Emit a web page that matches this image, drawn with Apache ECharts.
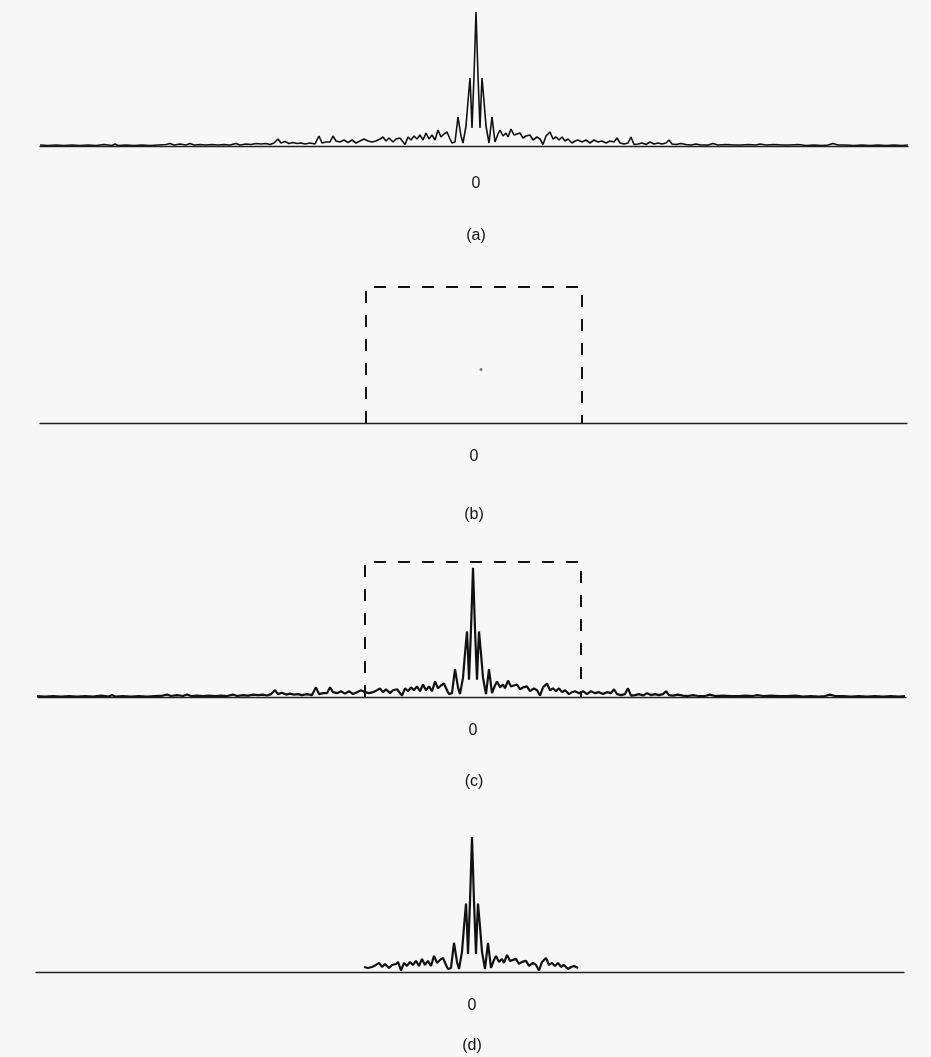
<!DOCTYPE html>
<html>
<head>
<meta charset="utf-8">
<script src="https://cdn.jsdelivr.net/npm/echarts@6/dist/echarts.min.js"></script>
<style>
html,body{margin:0;padding:0;background:#f7f7f7;}
#chart{width:931px;height:1057px;}
</style>
</head>
<body>
<div id="chart"></div>
<script>
// Frequency offsets (relative to zero) and spectrum amplitudes
const freq = [-436,-428,-420,-412,-404,-396,-388,-380,-372,-364,-361,-358,-350,-342,-334,-326,-318,-310,-306,-302,-296,-290,-286,-282,-276,-270,-264,-258,-252,-246,-240,-236,-230,-225,-220,-215,-210,-206,-202,-198,-195,-191,-187,-183,-179,-175,-171,-166,-161,-157,-154,-150,-146,-143,-140,-136,-132,-128,-124,-120,-116,-112,-108,-104,-100,-96,-93,-90,-87,-83,-80,-76,-74,-71,-68,-65,-62,-59,-56,-53,-50,-47,-44,-41,-38,-35,-32,-29,-26,-24,-21,-18,-15,-13,-10,-8,-6,-5,-4,-2,0,2,4,5,6,8,10,13,16,19,22,24,27,30,32,35,38,41,44,47,50,54,57,61,64,67,70,74,77,80,83,86,89,92,96,99,102,106,110,114,118,122,126,130,134,138,141,144,148,152,155,158,162,166,170,174,178,182,186,190,193,196,200,205,210,215,220,225,232,237,242,250,258,266,272,280,284,290,298,306,314,322,330,338,346,352,357,362,370,378,386,394,402,410,418,426,432];
const amplitude = [1,0.5,1,0.5,1,0.5,1,0.5,1.5,0.5,2,0.5,1,0.5,1,0.5,1,1.5,2.5,1,2,1,2.5,1,1.5,1,1.5,1,1.5,1,2.5,1,2,1.5,2.5,2,2.5,1.5,3,7,3,4.5,2.5,3.5,2.5,3,2,3,2,10,3,4,4,10,5,4,6,3.5,6,3,5,7,5,4,5,7,9,5,8,4,7,8,10,1.5,9,6,10,7,11,6,13,7,11,6,16,9,12,14,7,3,4,29,10,3,20,45,68,45,18,70,134,70,18,45,68,45,20,3,29,4,12,16,10,13,9,17,11,12,13,8,10,11,6,9,7,1.5,10,14,7,9,6,9,5,7,3,5,6,4,6,3,6,4,5,3,5,4,8,3,2,3,9,1.5,2,3,1.5,4,2,3,2,3,6,2,1.5,2.5,1.5,1,2,1,1,2.5,1,1.5,1,1,1.5,1,2,1,1.5,1,1,1.5,0.5,1,0.5,1,2.5,1,1,0.5,1,0.5,1,0.5,1,0.5,1];
// Rectangular window (half-width and height)
const windowX = [-108, -108, 108, 108];
const windowY = [0, 140, 140, 0];
const panelLabels = ['(a)', '(b)', '(c)', '(d)'];
const zeroTick = [0];
const specks = [[7, 55]];

const spectrum = freq.map((f, i) => [f, amplitude[i]]);
const windowed = spectrum.filter(p => Math.abs(p[0]) <= windowX[3]);
const windowLine = windowX.map((x, i) => [x, windowY[i]]);

const grids = [
  {left: 40, width: 868, top: 6, height: 140, xmin: -436, xmax: 432, margin: 30},
  {left: 40, width: 867, top: 287, height: 136, xmin: -434, xmax: 433, margin: 26},
  {left: 38, width: 868, top: 562, height: 135, xmin: -435, xmax: 433, margin: 26},
  {left: 36, width: 868, top: 831, height: 141, xmin: -436, xmax: 432, margin: 26}
];
const labelPos = [[476, 236], [474, 515], [474, 782], [472, 1046]];
const FONT = '"Liberation Sans", Arial, sans-serif';

const chart = echarts.init(document.getElementById('chart'), null, {renderer: 'canvas'});
const option = {
  backgroundColor: '#f7f7f7',
  animation: false,
  grid: grids.map(g => ({left: g.left, width: g.width, top: g.top, height: g.height})),
  xAxis: grids.map((g, i) => ({
    type: 'value', gridIndex: i, min: g.xmin, max: g.xmax,
    splitLine: {show: false},
    axisTick: {show: false},
    axisLine: {show: true, onZero: false, lineStyle: {color: '#222', width: 1.3}},
    axisLabel: {show: true, customValues: zeroTick, margin: g.margin, color: '#111',
      fontSize: 16, fontFamily: FONT, showMinLabel: false, showMaxLabel: false}
  })),
  yAxis: grids.map((g, i) => ({
    type: 'value', gridIndex: i, min: 0, max: 140, show: false, splitLine: {show: false}
  })),
  series: [
    {type: 'line', xAxisIndex: 0, yAxisIndex: 0, data: spectrum, showSymbol: false,
      lineStyle: {color: '#111', width: 1.6}},
    {type: 'line', xAxisIndex: 1, yAxisIndex: 1, data: windowLine, showSymbol: false,
      lineStyle: {color: '#111', width: 2, type: [12, 12]}},
    {type: 'scatter', xAxisIndex: 1, yAxisIndex: 1, data: specks, symbolSize: 3,
      itemStyle: {color: '#555'}},
    {type: 'line', xAxisIndex: 2, yAxisIndex: 2, data: windowLine, showSymbol: false,
      lineStyle: {color: '#111', width: 2, type: [12, 12]}},
    {type: 'line', xAxisIndex: 2, yAxisIndex: 2, data: spectrum, showSymbol: false,
      lineStyle: {color: '#111', width: 2.2}},
    {type: 'line', xAxisIndex: 3, yAxisIndex: 3, data: windowed, showSymbol: false,
      lineStyle: {color: '#111', width: 2.2}}
  ],
  graphic: panelLabels.map((t, i) => ({
    type: 'text', x: labelPos[i][0], y: labelPos[i][1],
    style: {text: t, textAlign: 'center', textVerticalAlign: 'middle',
      font: '16px ' + FONT, fill: '#111'}
  }))
};
chart.setOption(option);
</script>
</body>
</html>
